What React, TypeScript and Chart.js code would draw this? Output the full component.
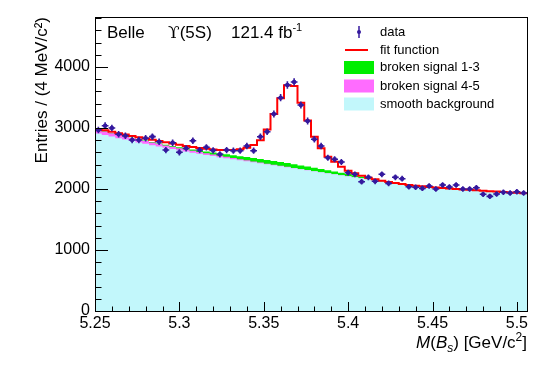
import React, { useEffect, useRef } from "react";
import { Chart, registerables } from "chart.js";

Chart.register(...registerables);

// ---------- data ----------
const X_MIN = 5.25;
const X_MAX = 5.506;
const BIN_WIDTH = 0.004;
const N_BINS = 64;

const binEdges: number[] = Array.from({ length: N_BINS + 1 }, (_, i) => +(X_MIN + i * BIN_WIDTH).toFixed(3));
const binCenters: number[] = Array.from({ length: N_BINS }, (_, i) => +(X_MIN + (i + 0.5) * BIN_WIDTH).toFixed(3));

const dataCounts = [
  2967, 3038, 3000, 2897, 2874, 2803, 2803, 2831, 2858, 2776,
  2639, 2759, 2602, 2667, 2792, 2639, 2684, 2634, 2569, 2639,
  2628, 2628, 2705, 2628, 2857, 2939, 3230, 3497, 3705, 3754,
  3377, 3115, 2815, 2705, 2513, 2487, 2443, 2267, 2241, 2120,
  2192, 2126, 2241, 2093, 2192, 2169, 2038, 2028, 2011, 2049,
  2000, 2066, 2033, 2066, 2000, 2000, 2021, 1913, 1880, 1918,
  1946, 1934, 1956, 1934,
];

const fitValues = [
  2985, 2962, 2939, 2916, 2893, 2871, 2849, 2827, 2806, 2786,
  2766, 2746, 2726, 2707, 2690, 2674, 2660, 2649, 2641, 2638,
  2641, 2652, 2676, 2720, 2800, 2975, 3230, 3486, 3700, 3690,
  3415, 3125, 2858, 2667, 2530, 2448, 2366, 2300, 2257, 2218,
  2185, 2162, 2135, 2114, 2097, 2081, 2067, 2055, 2044, 2034,
  2025, 2017, 2009, 2001, 1993, 1986, 1979, 1972, 1965, 1958,
  1951, 1944, 1937, 1930,
];

const smoothBackground = [
  2910, 2884, 2859, 2834, 2810, 2786, 2763, 2740, 2718, 2696,
  2675, 2654, 2634, 2614, 2595, 2576, 2558, 2540, 2522, 2505,
  2488, 2471, 2454, 2438, 2422, 2406, 2389, 2373, 2356, 2340,
  2323, 2307, 2290, 2274, 2257, 2241, 2224, 2208, 2191, 2175,
  2158, 2142, 2125, 2109, 2094, 2080, 2067, 2055, 2044, 2034,
  2025, 2017, 2009, 2001, 1993, 1986, 1979, 1972, 1965, 1958,
  1951, 1944, 1937, 1930,
];

const brokenSignal45 = [
  60, 58, 56, 54, 52, 50, 48, 46, 44, 42,
  40, 38, 36, 34, 32, 30, 28, 26, 24, 22,
  20, 18, 16, 14, 12, 10, 9, 8, 7, 6,
  5, 4, 3, 2, 1, 0, 0, 0, 0, 0,
  0, 0, 0, 0, 0, 0, 0, 0, 0, 0,
  0, 0, 0, 0, 0, 0, 0, 0, 0, 0,
  0, 0, 0, 0,
];

const brokenSignal13 = [
  4, 4, 5, 5, 6, 6, 7, 8, 9, 10,
  12, 14, 16, 19, 22, 25, 29, 33, 37, 41,
  45, 49, 53, 56, 59, 61, 62, 62, 62, 61,
  59, 57, 55, 52, 49, 46, 42, 38, 33, 28,
  22, 16, 10, 5, 2, 0, 0, 0, 0, 0,
  0, 0, 0, 0, 0, 0, 0, 0, 0, 0,
  0, 0, 0, 0,
];

const xTickValues = [5.25, 5.3, 5.35, 5.4, 5.45, 5.5];
const xTickLabels = ["5.25", "5.3", "5.35", "5.4", "5.45", "5.5"];
const yTickValues = [0, 1000, 2000, 3000, 4000];
const yTickLabels = ["0", "1000", "2000", "3000", "4000"];
const Y_MAX = 4820;

const legendLabels = ["data", "fit function", "broken signal 1-3", "broken signal 4-5", "smooth background"];

// ---------- styles ----------
const FONT = "'Liberation Sans', Arial, Helvetica, sans-serif";
const C_DATA = "#34199e";
const C_FIT = "#ff0000";
const C_GREEN = "#00ee00";
const C_MAGENTA = "#ff6cff";
const C_CYAN = "#c2f7fb";

const histPoints = (vals: number[]) => [
  ...vals.map((v, i) => ({ x: binEdges[i], y: v })),
  { x: binEdges[N_BINS], y: vals[N_BINS - 1] },
];

const magTop = smoothBackground.map((v, i) => v + brokenSignal45[i]);
const greenTop = magTop.map((v, i) => v + brokenSignal13[i]);

const decorPlugin = {
  id: "rootDecor",
  afterDatasetsDraw(chart: any) {
    const { ctx, chartArea, scales } = chart;
    const xs = scales.x;
    const ys = scales.y;
    const { left, right, top, bottom } = chartArea;
    ctx.save();
    // error bars
    const meta = chart.getDatasetMeta(0);
    ctx.strokeStyle = C_DATA;
    ctx.lineWidth = 1.6;
    meta.data.forEach((pt: any, i: number) => {
      const v = dataCounts[i];
      const e = Math.sqrt(v);
      const x = pt.x;
      const y = pt.y;
      const yHi = ys.getPixelForValue(v + e);
      const yLo = ys.getPixelForValue(v - e);
      const xL = xs.getPixelForValue(binCenters[i] - BIN_WIDTH / 2);
      const xR = xs.getPixelForValue(binCenters[i] + BIN_WIDTH / 2);
      ctx.beginPath();
      ctx.moveTo(x, yHi);
      ctx.lineTo(x, yLo);
      ctx.moveTo(xL, y);
      ctx.lineTo(xR, y);
      ctx.stroke();
    });
    // frame
    ctx.strokeStyle = "#000";
    ctx.lineWidth = 1;
    ctx.strokeRect(Math.round(left) + 0.5, Math.round(top) + 0.5, Math.round(right - left), Math.round(bottom - top));
    // y ticks
    ctx.beginPath();
    for (let v = 0; v <= Y_MAX; v += 200) {
      const y = Math.round(ys.getPixelForValue(v)) + 0.5;
      const len = v % 1000 === 0 ? 13 : 6.5;
      ctx.moveTo(left, y);
      ctx.lineTo(left + len, y);
    }
    // x ticks
    for (let k = 0; k <= 25; k++) {
      const v = 5.25 + k * 0.01;
      const x = Math.round(xs.getPixelForValue(v)) + 0.5;
      const len = k % 5 === 0 ? 9 : 4.5;
      ctx.moveTo(x, bottom);
      ctx.lineTo(x, bottom - len);
    }
    ctx.stroke();
    ctx.restore();
  },
  afterDraw(chart: any) {
    const { ctx } = chart;
    ctx.save();
    ctx.fillStyle = "#000";
    ctx.textBaseline = "alphabetic";
    // header text
    ctx.font = `17px ${FONT}`;
    ctx.textAlign = "left";
    ctx.fillText("Belle", 107, 38);
    ctx.font = `17px 'DejaVu Serif', 'Liberation Serif', serif`;
    ctx.fillText("\u03D2", 168, 38);
    const wU = ctx.measureText("\u03D2").width;
    ctx.font = `17px ${FONT}`;
    ctx.fillText("(5S)", 168 + wU, 38);
    ctx.fillText("121.4 fb", 231, 38);
    const wF = ctx.measureText("121.4 fb").width;
    ctx.font = `11px ${FONT}`;
    ctx.fillText("-1", 231 + wF, 31);

    // legend
    const lx = 380;
    ctx.font = `13px ${FONT}`;
    ctx.textBaseline = "middle";
    const rows = [32, 50, 67.5, 86, 104];
    legendLabels.forEach((t, i) => ctx.fillText(t, lx, rows[i]));
    // data marker
    ctx.strokeStyle = C_DATA;
    ctx.fillStyle = C_DATA;
    ctx.lineWidth = 1.5;
    ctx.beginPath();
    ctx.moveTo(359, 26);
    ctx.lineTo(359, 38);
    ctx.stroke();
    ctx.beginPath();
    ctx.arc(359, 32, 2, 0, Math.PI * 2);
    ctx.fill();
    // fit marker
    ctx.strokeStyle = C_FIT;
    ctx.lineWidth = 2;
    ctx.beginPath();
    ctx.moveTo(345, 50);
    ctx.lineTo(368, 50);
    ctx.stroke();
    // boxes
    ctx.fillStyle = C_GREEN;
    ctx.fillRect(344, 61, 30, 13);
    ctx.fillStyle = C_MAGENTA;
    ctx.fillRect(344, 79.5, 30, 13);
    ctx.fillStyle = C_CYAN;
    ctx.fillRect(344, 97.5, 30, 13);

    // x axis title, right aligned at frame right
    const right = chart.chartArea.right;
    const base = 348;
    const pieces = [
      { t: "M", f: `italic 17px ${FONT}`, dy: 0 },
      { t: "(", f: `17px ${FONT}`, dy: 0 },
      { t: "B", f: `italic 17px ${FONT}`, dy: 0 },
      { t: "s", f: `italic 12px ${FONT}`, dy: 4 },
      { t: ") [GeV/c", f: `17px ${FONT}`, dy: 0 },
      { t: "2", f: `12px ${FONT}`, dy: -7 },
      { t: "]", f: `17px ${FONT}`, dy: 0 },
    ];
    let total = 0;
    const widths = pieces.map((p) => {
      ctx.font = p.f;
      const w = ctx.measureText(p.t).width;
      total += w;
      return w;
    });
    let cx = right - total;
    ctx.fillStyle = "#000";
    ctx.textBaseline = "alphabetic";
    ctx.textAlign = "left";
    pieces.forEach((p, i) => {
      ctx.font = p.f;
      ctx.fillText(p.t, cx, base + p.dy);
      cx += widths[i];
    });
    ctx.restore();
  },
};

export default function App() {
  const ref = useRef<HTMLCanvasElement>(null);
  useEffect(() => {
    if (!ref.current) return;
    const chart = new Chart(ref.current, {
      type: "line",
      data: {
        datasets: [
          {
            label: "data",
            data: dataCounts.map((v, i) => ({ x: binCenters[i], y: v })),
            showLine: false,
            pointRadius: 2.3,
            pointBackgroundColor: C_DATA,
            pointBorderWidth: 0,
            borderColor: C_DATA,
            order: 0,
          },
          {
            label: "fit function",
            data: histPoints(fitValues),
            stepped: "before",
            borderColor: C_FIT,
            borderWidth: 2,
            pointRadius: 0,
            fill: false,
            order: 1,
          },
          {
            label: "smooth background",
            data: histPoints(smoothBackground),
            stepped: "before",
            borderColor: "rgba(0,0,0,0)",
            backgroundColor: C_CYAN,
            pointRadius: 0,
            fill: "origin",
            order: 2,
          },
          {
            label: "broken signal 4-5",
            data: histPoints(magTop),
            stepped: "before",
            borderColor: "rgba(0,0,0,0)",
            backgroundColor: C_MAGENTA,
            pointRadius: 0,
            fill: "origin",
            order: 3,
          },
          {
            label: "broken signal 1-3",
            data: histPoints(greenTop),
            stepped: "before",
            borderColor: "rgba(0,0,0,0)",
            backgroundColor: C_GREEN,
            pointRadius: 0,
            fill: "origin",
            order: 4,
          },
        ],
      },
      options: {
        animation: false,
        responsive: false,
        devicePixelRatio: 1,
        layout: { padding: { left: 0, right: 13, top: 17, bottom: 0 } },
        plugins: { legend: { display: false }, tooltip: { enabled: false } },
        events: [],
        scales: {
          x: {
            type: "linear",
            min: X_MIN,
            max: X_MAX,
            afterBuildTicks: (s: any) => {
              s.ticks = xTickValues.map((v) => ({ value: v }));
            },
            afterFit: (s: any) => {
              s.height = 58;
              s.paddingLeft = 0;
              s.paddingRight = 0;
            },
            ticks: {
              callback: (v: any) => xTickLabels[xTickValues.indexOf(v)] ?? "",
              font: { family: FONT, size: 16 },
              color: "#000",
              padding: 3,
              maxRotation: 0,
              autoSkip: false,
            },
            grid: { display: false, drawTicks: false },
            border: { display: false },
          },
          y: {
            min: 0,
            max: Y_MAX,
            afterBuildTicks: (s: any) => {
              s.ticks = yTickValues.map((v) => ({ value: v }));
            },
            afterFit: (s: any) => {
              s.width = 95;
              s.paddingTop = 0;
              s.paddingBottom = 0;
            },
            ticks: {
              callback: (v: any) => yTickLabels[yTickValues.indexOf(v)] ?? "",
              font: { family: FONT, size: 16 },
              color: "#000",
              padding: 5,
              autoSkip: false,
            },
            title: {
              display: true,
              text: "Entries / (4 MeV/c\u00B2)",
              align: "end",
              color: "#000",
              font: { family: FONT, size: 17 },
              padding: { top: 32, bottom: 0 },
            },
            grid: { display: false, drawTicks: false },
            border: { display: false },
          },
        },
      },
      plugins: [decorPlugin],
    } as any);
    return () => chart.destroy();
  }, []);
  return (
    <div style={{ position: "absolute", left: 0, top: 0, width: 540, height: 369, background: "#fff" }}>
      <canvas ref={ref} width={540} height={369} style={{ display: "block", width: 540, height: 369 }} />
    </div>
  );
}
